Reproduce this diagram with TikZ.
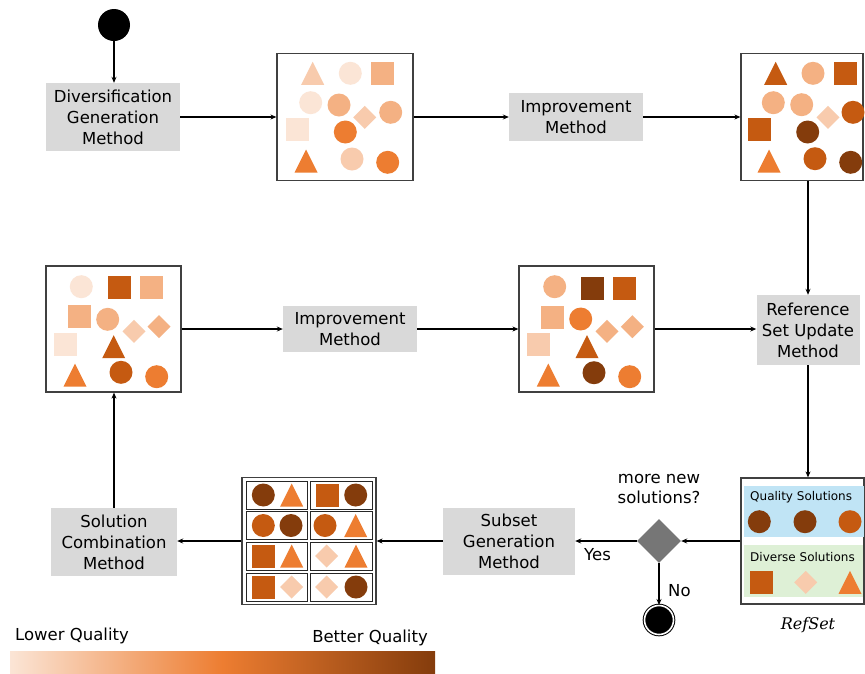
\documentclass[tikz,border=0pt]{standalone}
\usepackage{fontspec}
\setmainfont{DejaVu Sans}
\newfontfamily\rsfont{DejaVu Serif}
\usetikzlibrary{shapes.geometric,arrows.meta}
\definecolor{cA}{HTML}{FBE5D6}
\definecolor{cB}{HTML}{F8CBAD}
\definecolor{cC}{HTML}{F4B183}
\definecolor{cD}{HTML}{ED7D31}
\definecolor{cE}{HTML}{C55A11}
\definecolor{cF}{HTML}{843C0C}
\definecolor{boxgray}{RGB}{217,217,217}
\definecolor{decgray}{RGB}{118,118,118}
\definecolor{qblue}{RGB}{192,228,245}
\definecolor{dgreen}{RGB}{222,240,214}
\newcommand{\shCirc}[3]{\fill[#1] (#2,#3) circle (11.5);}
\newcommand{\shSq}[3]{\fill[#1,shift={(#2,#3)}] (-11.5,-11.5) rectangle (11.5,11.5);}
\newcommand{\shTri}[3]{\fill[#1,shift={(#2,#3)}] (-11.5,11.5) -- (11.5,11.5) -- (0,-11.5) -- cycle;}
\newcommand{\shDia}[3]{\fill[#1,shift={(#2,#3)}] (0,-11.5) -- (11.5,0) -- (0,11.5) -- (-11.5,0) -- cycle;}
\tikzset{
  graybox/.style={fill=boxgray, draw=none, align=center, inner sep=0pt,
    font=\fontsize{16.5}{21}\selectfont},
  picbox/.style={draw=black!75, line width=1.2pt, fill=white, inner sep=0pt},
  conn/.style={line width=1.6pt, -{Stealth[length=6pt,width=5pt]}},
  lbl/.style={font=\fontsize{16.5}{20}\selectfont, inner sep=0pt, align=center},
}
\begin{document}
\begin{tikzpicture}[x=1pt,y=-1pt]
\useasboundingbox (0,0) rectangle (865,673);
% nodes
\node[circle, fill=black, minimum size=32pt, inner sep=0pt] (start) at (114,25) {};
\node[graybox, minimum width=134pt, minimum height=68pt] (dgm) at (113,117) {Diversification\\Generation\\Method};
\node[picbox, minimum width=136pt, minimum height=127pt] (b1) at (345,117) {};
\node[graybox, minimum width=134pt, minimum height=48pt] (imp1) at (576,117) {Improvement\\Method};
\node[picbox, minimum width=122pt, minimum height=127pt] (b2) at (802,117) {};
\node[graybox, minimum width=103pt, minimum height=70pt] (rsu) at (808,330) {Reference\\Set Update\\Method};
\node[picbox, minimum width=135pt, minimum height=126pt] (b3) at (113.5,329) {};
\node[graybox, minimum width=134pt, minimum height=46pt] (imp2) at (350,329) {Improvement\\Method};
\node[picbox, minimum width=135pt, minimum height=126pt] (b4) at (586.5,329) {};
\node[picbox, minimum width=123pt, minimum height=126pt] (refset) at (802.5,541) {};
\node[diamond, fill=decgray, minimum width=44pt, minimum height=44pt, inner sep=0pt] (dec) at (659,541) {};
\node[circle, draw=black, line width=1pt, fill=black, double=white, double distance=1.6pt, minimum size=29pt, inner sep=0pt] (endc) at (659,620) {};
\node[graybox, minimum width=132pt, minimum height=67pt] (sgm) at (509,541) {Subset\\Generation\\Method};
\node[picbox, minimum width=134pt, minimum height=127pt] (grid) at (309,541) {};
\node[graybox, minimum width=126pt, minimum height=68pt] (scm) at (114,542) {Solution\\Combination\\Method};
% labels
\node[lbl] (q) at (659,489) {more new\\solutions?};
\node[lbl, anchor=west] (yes) at (584,555) {Yes};
\node[lbl, anchor=west] (no) at (668,591) {No};
\node[inner sep=0pt, font=\fontsize{16}{20}\selectfont\rsfont\itshape] (rs) at (808,625) {RefSet};
% connectors
\draw[conn] (start) -- (start |- dgm.north);
\draw[conn] (dgm.east) -- (dgm.east -| b1.west);
\draw[conn] (b1.east) -- (imp1.west);
\draw[conn] (imp1.east) -- (b2.west);
\draw[conn] (b2.south -| rsu.north) -- (rsu.north);
\draw[conn] (rsu.south) -- (rsu.south |- refset.north);
\draw[conn] (refset.west) -- (dec.east);
\draw[conn] (dec.south) -- (endc.north);
\draw[conn] (dec.west) -- (dec.west -| sgm.east);
\draw[conn] (sgm.west) -- (sgm.west -| grid.east);
\draw[conn] (grid.west) -- (grid.west -| scm.east);
\draw[conn] (scm.north) -- (scm.north |- b3.south);
\draw[conn] (b3.east) -- (b3.east -| imp2.west);
\draw[conn] (imp2.east) -- (imp2.east -| b4.west);
\draw[conn] (b4.east) -- (b4.east -| rsu.west);
% box 1 shapes
\shTri{cB}{312.7}{73.3}
\shCirc{cA}{350.3}{73.3}
\shSq{cC}{382.3}{73.3}
\shCirc{cA}{310.7}{102.7}
\shCirc{cC}{339}{105}
\shDia{cB}{364.7}{117.3}
\shCirc{cC}{390.7}{112.3}
\shSq{cA}{297.3}{129.3}
\shCirc{cD}{345.3}{132}
\shTri{cD}{306}{161}
\shCirc{cB}{352}{159}
\shCirc{cD}{387.7}{162.3}
% box 2 shapes
\shTri{cE}{775.7}{73.3}
\shCirc{cC}{813}{73.3}
\shSq{cE}{845.3}{73.3}
\shCirc{cC}{773.3}{102.7}
\shCirc{cC}{801.7}{104.7}
\shDia{cB}{828}{117.3}
\shCirc{cE}{853}{112.3}
\shSq{cE}{759.3}{129.3}
\shCirc{cF}{807.7}{132}
\shTri{cD}{769}{161}
\shCirc{cE}{815}{158.7}
\shCirc{cF}{850.7}{162.3}
% box 3 shapes
\shCirc{cA}{81.3}{286.7}
\shSq{cE}{119.3}{287.3}
\shSq{cC}{151.3}{287.3}
\shSq{cC}{79.3}{316}
\shCirc{cC}{107.7}{319.3}
\shDia{cB}{134}{331.3}
\shDia{cC}{159}{326.7}
\shSq{cA}{65.3}{344.3}
\shTri{cE}{113.7}{346.7}
\shTri{cD}{75}{375}
\shCirc{cE}{121}{372.3}
\shCirc{cD}{156.7}{376.7}
% box 4 shapes
\shCirc{cC}{554.7}{286.7}
\shSq{cF}{592.3}{288}
\shSq{cE}{624.3}{288}
\shSq{cC}{552.3}{317.3}
\shCirc{cD}{580.7}{319}
\shDia{cC}{607}{331.3}
\shDia{cC}{632.3}{326.7}
\shSq{cB}{538.3}{344.3}
\shTri{cE}{587}{346.7}
\shTri{cD}{548.3}{375}
\shCirc{cF}{594}{372.7}
\shCirc{cD}{629.7}{376.7}
% grid cells
\foreach \yy in {481.7,511.7,542,573}{
  \draw[black!85, line width=1pt] (246,\yy) rectangle (307.7,\yy+28);
  \draw[black!85, line width=1pt] (310,\yy) rectangle (372.3,\yy+28);
}
\shCirc{cF}{263.3}{495}
\shTri{cD}{291.7}{495}
\shSq{cE}{327.3}{495}
\shCirc{cF}{355.7}{495}
\shCirc{cE}{263.3}{525.5}
\shCirc{cF}{291}{525.5}
\shCirc{cE}{325}{525.5}
\shTri{cD}{355.7}{525.5}
\shSq{cE}{263.3}{556}
\shTri{cD}{291.7}{556}
\shDia{cB}{326.7}{556}
\shTri{cD}{356}{556}
\shSq{cE}{263.3}{587}
\shDia{cB}{291.7}{587}
\shDia{cB}{326.7}{587}
\shCirc{cF}{356}{587}
% refset contents
\fill[qblue] (744,486) rectangle (864,536.7);
\fill[dgreen] (744,545) rectangle (863,596.7);
\node[anchor=west, inner sep=0pt, font=\fontsize{12}{14}\selectfont] (qs) at (750,496.7) {Quality Solutions};
\node[anchor=west, inner sep=0pt, font=\fontsize{12}{14}\selectfont] (ds) at (750,556.7) {Diverse Solutions};
\shCirc{cF}{759.3}{521.7}
\shCirc{cF}{805}{521.7}
\shCirc{cE}{850}{521.7}
\shSq{cE}{761.7}{582.3}
\shDia{cB}{805.7}{582.3}
\shTri{cD}{850}{582.3}
% legend
\node[anchor=west, inner sep=0pt, font=\fontsize{16.5}{20}\selectfont] (lq) at (15,636) {Lower Quality};
\node[anchor=east, inner sep=0pt, font=\fontsize{16.5}{20}\selectfont] (bq) at (428,638) {Better Quality};
\shade[left color=cA, right color=cF, middle color=cD] (10,651) rectangle (435,673);
\end{tikzpicture}
\end{document}
